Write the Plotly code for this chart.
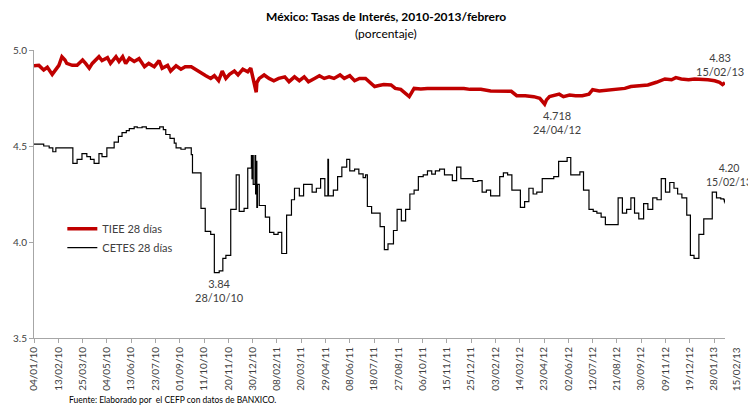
import plotly.graph_objects as go
import pandas as pd

# ---------------- data ----------------
tiee_dates = [
    "2010-01-04","2010-01-12","2010-01-20","2010-01-26","2010-02-03","2010-02-08","2010-02-14","2010-02-19",
    "2010-02-24","2010-02-27","2010-03-08","2010-03-16","2010-03-25","2010-03-30","2010-04-05","2010-04-10",
    "2010-04-16","2010-04-21","2010-04-26","2010-05-05","2010-05-10","2010-05-19","2010-05-24","2010-05-30",
    "2010-06-04","2010-06-10","2010-06-18","2010-06-26","2010-07-05","2010-07-12","2010-07-21","2010-07-29",
    "2010-08-03","2010-08-12","2010-08-17","2010-08-26","2010-09-03","2010-09-10","2010-09-20","2010-09-28",
    "2010-10-06","2010-10-14","2010-10-22","2010-10-28","2010-11-04","2010-11-10","2010-11-16","2010-11-22",
    "2010-11-30","2010-12-06","2010-12-14","2010-12-22","2010-12-27","2010-12-31","2011-01-04","2011-01-05",
    "2011-01-06","2011-01-10","2011-01-18","2011-01-26","2011-02-03","2011-02-11","2011-02-21","2011-02-28",
    "2011-03-09","2011-03-17","2011-03-25","2011-04-01","2011-04-11","2011-04-19","2011-04-27","2011-05-05",
    "2011-05-13","2011-05-23","2011-05-30","2011-06-08","2011-06-16","2011-06-24","2011-07-04","2011-07-11",
    "2011-07-19","2011-07-26","2011-08-03","2011-08-15","2011-08-22","2011-08-31","2011-09-08","2011-09-14",
    "2011-09-22","2011-10-03","2011-10-14","2011-10-27","2011-11-07","2011-11-18","2011-12-02","2011-12-13",
    "2011-12-23","2012-01-10","2012-01-26","2012-02-13","2012-02-29","2012-03-09","2012-03-23","2012-04-06",
    "2012-04-16","2012-04-24","2012-04-27","2012-05-02","2012-05-10","2012-05-18","2012-05-25","2012-06-04",
    "2012-06-14","2012-06-25","2012-07-06","2012-07-12","2012-07-23","2012-08-06","2012-08-20","2012-09-03",
    "2012-09-13","2012-09-27","2012-10-11","2012-10-25","2012-11-08","2012-11-19","2012-11-26","2012-12-05",
    "2012-12-17","2012-12-27","2013-01-07","2013-01-18","2013-01-29","2013-02-06","2013-02-11","2013-02-15",
]
tiee_values = [
    4.918,4.920,4.896,4.910,4.873,4.896,4.920,4.965,
    4.948,4.930,4.920,4.920,4.948,4.930,4.905,4.930,
    4.948,4.965,4.945,4.960,4.930,4.965,4.940,4.965,
    4.930,4.957,4.940,4.955,4.913,4.930,4.913,4.945,
    4.905,4.920,4.890,4.918,4.900,4.913,4.913,4.896,
    4.884,4.866,4.852,4.866,4.840,4.890,4.852,4.873,
    4.890,4.870,4.900,4.887,4.905,4.844,4.800,4.780,
    4.830,4.852,4.870,4.852,4.840,4.852,4.860,4.835,
    4.860,4.840,4.860,4.835,4.852,4.866,4.852,4.860,
    4.852,4.870,4.852,4.866,4.840,4.852,4.852,4.835,
    4.810,4.815,4.820,4.818,4.800,4.795,4.770,4.757,
    4.800,4.797,4.800,4.802,4.800,4.800,4.800,4.800,
    4.795,4.795,4.786,4.785,4.785,4.762,4.762,4.757,
    4.748,4.718,4.740,4.757,4.765,4.770,4.757,4.765,
    4.762,4.762,4.770,4.793,4.786,4.790,4.797,4.800,
    4.810,4.814,4.818,4.832,4.849,4.845,4.856,4.849,
    4.845,4.849,4.849,4.845,4.840,4.832,4.820,4.830,
]

cetes_dates = [
    "2010-01-04","2010-01-20","2010-01-29","2010-02-04","2010-02-09","2010-03-09","2010-03-16","2010-03-24",
    "2010-04-01","2010-04-07","2010-04-13","2010-04-21","2010-04-26","2010-05-04","2010-05-16","2010-05-23",
    "2010-05-29","2010-06-05","2010-06-10","2010-06-18","2010-06-23","2010-07-01","2010-07-08","2010-07-30",
    "2010-08-05","2010-08-09","2010-08-16","2010-08-23","2010-08-26","2010-09-03","2010-09-10","2010-09-20",
    "2010-09-22","2010-10-06","2010-10-13","2010-10-22","2010-10-28","2010-11-05","2010-11-11","2010-11-16",
    "2010-11-24","2010-12-03","2010-12-08","2010-12-16","2010-12-22","2010-12-28","2010-12-29","2010-12-30",
    "2010-12-31","2011-01-03","2011-01-04","2011-01-05","2011-01-06","2011-01-07","2011-01-10","2011-01-20",
    "2011-01-27","2011-02-03","2011-02-10","2011-02-16","2011-02-24","2011-03-04","2011-03-09","2011-03-17",
    "2011-03-24","2011-04-07","2011-04-14","2011-04-21","2011-04-28","2011-05-03","2011-05-04","2011-05-12",
    "2011-05-19","2011-05-26","2011-06-03","2011-06-08","2011-06-16","2011-06-23","2011-06-30","2011-07-04",
    "2011-07-07","2011-07-14","2011-07-28","2011-08-04","2011-08-10","2011-08-19","2011-08-25","2011-09-01",
    "2011-09-08","2011-09-15","2011-09-22","2011-09-29","2011-10-07","2011-10-14","2011-10-21","2011-10-27",
    "2011-11-03","2011-11-11","2011-11-24","2011-12-01","2011-12-08","2011-12-28","2012-01-05","2012-01-12",
    "2012-01-19","2012-01-26","2012-02-10","2012-02-16","2012-02-23","2012-03-01","2012-03-15","2012-03-22",
    "2012-03-29","2012-04-05","2012-04-11","2012-04-20","2012-05-09","2012-05-17","2012-05-31","2012-06-06",
    "2012-06-21","2012-06-27","2012-07-06","2012-07-13","2012-07-19","2012-07-26","2012-08-02","2012-08-23",
    "2012-08-30","2012-09-06","2012-09-13","2012-09-19","2012-09-26","2012-10-04","2012-10-11","2012-10-19",
    "2012-10-26","2012-11-02","2012-11-09","2012-11-16","2012-11-23","2012-11-29","2012-12-06","2012-12-14",
    "2012-12-20","2012-12-26","2013-01-03","2013-01-11","2013-01-25","2013-02-01","2013-02-08","2013-02-13",
    "2013-02-14","2013-02-15",
]
cetes_values = [
    4.51,4.50,4.49,4.47,4.49,4.41,4.43,4.46,
    4.445,4.43,4.41,4.46,4.445,4.49,4.52,4.55,
    4.57,4.58,4.59,4.60,4.595,4.60,4.59,4.60,
    4.585,4.56,4.54,4.515,4.49,4.483,4.49,4.455,
    4.36,4.175,4.055,4.04,3.84,3.85,3.915,3.93,
    4.17,4.35,4.16,4.175,4.385,4.45,4.33,4.45,
    4.30,4.45,4.25,4.42,4.18,4.30,4.19,4.13,
    4.05,4.04,4.05,3.94,4.14,4.22,4.28,4.24,
    4.30,4.26,4.28,4.33,4.24,4.43,4.24,4.27,
    4.34,4.39,4.43,4.37,4.38,4.355,4.335,4.35,
    4.185,4.15,4.08,3.96,3.99,4.06,4.17,4.11,
    4.17,4.25,4.27,4.34,4.35,4.37,4.353,4.37,
    4.38,4.35,4.32,4.39,4.33,4.315,4.32,4.26,
    4.27,4.24,4.34,4.36,4.35,4.27,4.18,4.21,
    4.28,4.25,4.26,4.33,4.34,4.42,4.44,4.35,
    4.365,4.27,4.17,4.16,4.15,4.13,4.09,4.23,
    4.15,4.17,4.23,4.15,4.12,4.20,4.17,4.23,
    4.22,4.33,4.26,4.31,4.28,4.25,4.23,4.14,
    3.93,3.915,4.04,4.12,4.26,4.23,4.225,4.22,
    4.21,4.20,
]

tick_labels = [
    "04/01/10","13/02/10","25/03/10","04/05/10","13/06/10","23/07/10","01/09/10","11/10/10",
    "20/11/10","30/12/10","08/02/11","20/03/11","29/04/11","08/06/11","18/07/11","27/08/11",
    "06/10/11","15/11/11","25/12/11","03/02/12","14/03/12","23/04/12","02/06/12","12/07/12",
    "21/08/12","30/09/12","09/11/12","19/12/12","28/01/13",
]
y_ticks = [3.5, 4.0, 4.5, 5.0]

tick_vals = [pd.to_datetime(t, format="%d/%m/%y") for t in tick_labels]

FONT = "Lato, Carlito, 'Liberation Sans', sans-serif"
TXT = "#404040"

fig = go.Figure()
fig.add_trace(go.Scatter(
    x=pd.to_datetime(tiee_dates), y=tiee_values, mode="lines", name="TIEE 28 días",
    line=dict(color="#C00000", width=3.5),
))
fig.add_trace(go.Scatter(
    x=pd.to_datetime(cetes_dates), y=cetes_values, mode="lines", name="CETES 28 días",
    line=dict(color="#000000", width=1.2, shape="hv"),
))

# page body has an 8px default margin, so the figure is 8px smaller in each direction
fig.update_layout(
    width=748, height=398,
    margin=dict(l=26, r=31, t=42, b=68),
    paper_bgcolor="white", plot_bgcolor="white",
    font=dict(family=FONT, size=11, color=TXT),
    showlegend=True,
    legend=dict(x=0.041, y=0.43, xanchor="left", yanchor="top",
                bgcolor="rgba(0,0,0,0)", font=dict(size=11, color=TXT),
                tracegroupgap=4),
    xaxis=dict(
        type="date", range=["2010-01-04", "2013-02-15"],
        tickmode="array", tickvals=tick_vals, ticktext=tick_labels,
        tickangle=-90, tickfont=dict(size=10, color=TXT),
        showgrid=False, zeroline=False,
        showline=True, linecolor="#A6A6A6", linewidth=1,
        ticks="outside", ticklen=4, tickcolor="#A6A6A6",
        automargin=False,
    ),
    yaxis=dict(
        range=[3.5, 5.0], tickmode="array", tickvals=y_ticks,
        ticktext=[f"{v:.1f}" for v in y_ticks],
        tickfont=dict(size=10, color=TXT),
        showgrid=False, zeroline=False,
        showline=True, linecolor="#A6A6A6", linewidth=1,
        ticks="outside", ticklen=4, tickcolor="#A6A6A6",
        automargin=False,
    ),
)

ann = dict(showarrow=False, font=dict(family=FONT, size=11, color=TXT))
fig.add_annotation(text="<b>México: Tasas de Interés, 2010-2013/febrero</b>", xref="paper", yref="paper",
                   x=0.509, y=1.115, xanchor="center", yanchor="middle",
                   showarrow=False, font=dict(family=FONT, size=12, color="#000000"))
fig.add_annotation(text="(porcentaje)", xref="paper", yref="paper",
                   x=0.509, y=1.059, xanchor="center", yanchor="middle",
                   showarrow=False, font=dict(family=FONT, size=12, color="#000000"))
fig.add_annotation(text="3.84<br>28/10/10", x="2010-10-28", y=3.745, xshift=5, **ann)
fig.add_annotation(text="4.718<br>24/04/12", x="2012-04-24", y=4.62, xshift=12, **ann)
fig.add_annotation(text="4.83<br>15/02/13", x="2013-02-15", y=4.925, xshift=-5, **ann)
fig.add_annotation(text="4.20<br>15/02/13", x="2013-02-15", y=4.35, xshift=4,
                   showarrow=False, font=dict(family=FONT, size=10.5, color=TXT))
fig.add_annotation(text="15/02/13", xref="paper", yref="paper", x=1.016, y=-0.025,
                   xanchor="center", yanchor="top", textangle=-90,
                   showarrow=False, font=dict(family=FONT, size=10, color=TXT))
fig.add_annotation(text="Fuente: Elaborado por  el CEFP con datos de BANXICO.", xref="paper", yref="paper",
                   x=0.048, y=-0.215, xanchor="left", yanchor="middle",
                   showarrow=False, font=dict(family=FONT, size=8.5, color="#000000"))

fig.write_html("out.html")
